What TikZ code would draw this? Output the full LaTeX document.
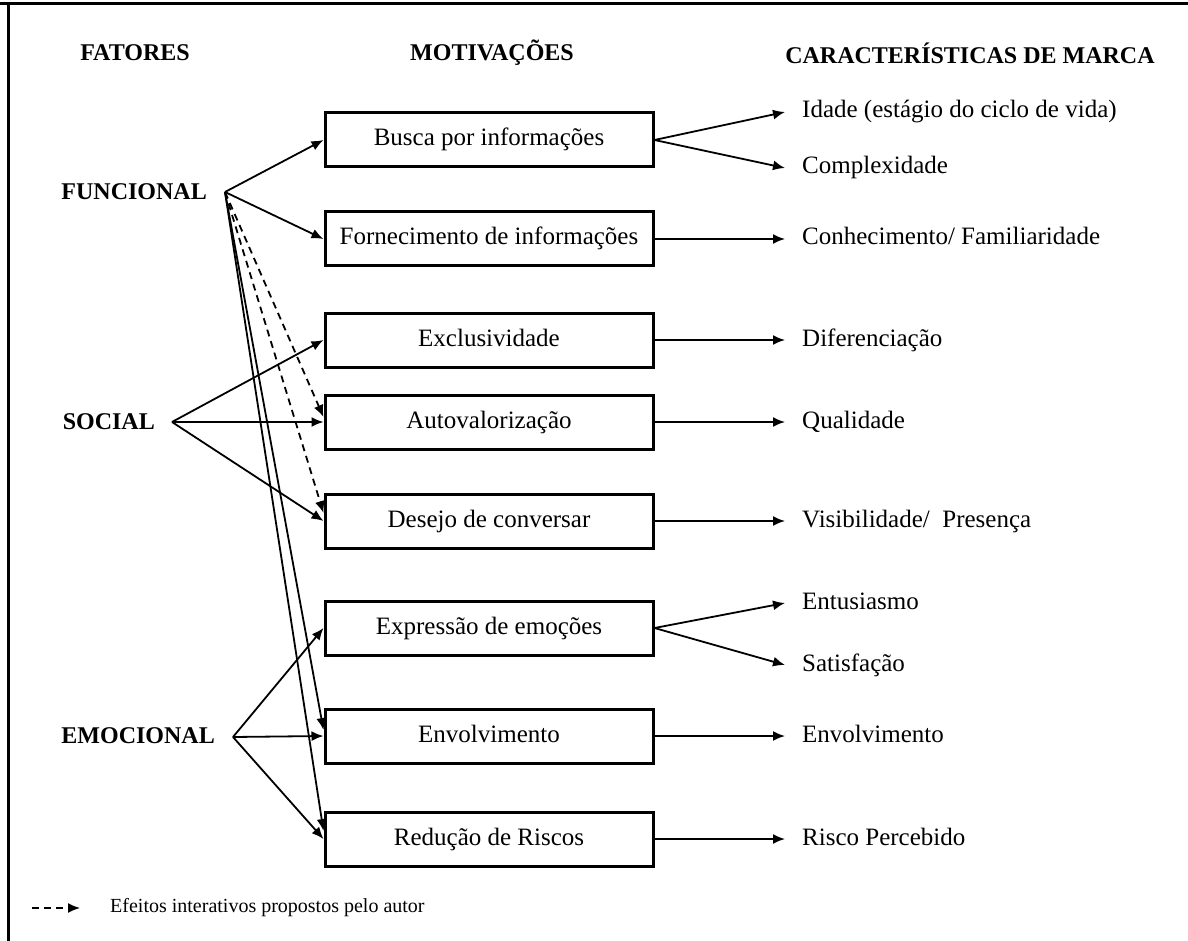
\documentclass[tikz,border=0pt]{standalone}
\usepackage{fontspec}
\setmainfont{Liberation Serif}
\usetikzlibrary{arrows.meta}
\begin{document}
\begin{tikzpicture}[x=1pt,y=-1pt,
  txt/.style={font=\fontsize{25}{30}\selectfont,text height=17pt,text depth=5pt},
  mbox/.style={txt,draw,line width=3pt,minimum width=328pt,minimum height=54pt,inner sep=0pt},
  lbl/.style={txt,anchor=west,inner sep=0pt},
  hdr/.style={inner sep=0pt,font=\fontsize{24}{28}\selectfont\bfseries},
  fac/.style={anchor=east,inner sep=0pt,font=\fontsize{24}{28}\selectfont\bfseries},
  arr/.style={line width=1.8pt,-{Latex[length=12pt,width=10pt]}},
  darr/.style={arr,dash pattern=on 7pt off 5pt}]
\useasboundingbox (0,0) rectangle (1188,941);
\draw[line width=3pt] (0,4) -- (1188,4);
\draw[line width=3pt] (8,4) -- (8,941);

% headers
\node[hdr] (hfat) at (135,53) {FATORES};
\node[hdr] (hmot) at (492,53) {MOTIVAÇÕES};
\node[hdr] (hcar) at (970,53) {CARACTERÍSTICAS DE MARCA};

% factors
\node[fac] (fun) at (207,192) {FUNCIONAL};
\node[fac] (soc) at (155,422) {SOCIAL};
\node[fac] (emo) at (215,736) {EMOCIONAL};
\coordinate (ofun) at (225,192);
\coordinate (osoc) at (172,422);
\coordinate (oemo) at (233,737);

% motivation boxes
\node[mbox] (bus) at (489,140) {Busca por informações};
\node[mbox] (for) at (489,239) {Fornecimento de informações};
\node[mbox] (exc) at (489,340) {Exclusividade};
\node[mbox] (aut) at (489,422) {Autovalorização};
\node[mbox] (des) at (489,521) {Desejo de conversar};
\node[mbox] (exp) at (489,628) {Expressão de emoções};
\node[mbox] (env) at (489,736) {Envolvimento};
\node[mbox] (red) at (489,839) {Redução de Riscos};

% brand characteristics
\node[lbl] (c1) at (802,112) {Idade (estágio do ciclo de vida)};
\node[lbl] (c2) at (802,168) {Complexidade};
\node[lbl] (c3) at (802,239) {Conhecimento/ Familiaridade};
\node[lbl] (c4) at (802,340) {Diferenciação};
\node[lbl] (c5) at (802,422) {Qualidade};
\node[lbl] (c6) at (802,521) {Visibilidade/\ \ Presença};
\node[lbl] (c7) at (802,603) {Entusiasmo};
\node[lbl] (c8) at (802,665) {Satisfação};
\node[lbl] (c9) at (802,736) {Envolvimento};
\node[lbl] (c10) at (802,839) {Risco Percebido};

% functional
\draw[arr] (ofun) -- (bus.west);
\draw[arr] (ofun) -- (for.west);
\draw[darr] (ofun) -- ([yshift=5pt]aut.west);
\draw[darr] (ofun) -- ([yshift=8pt]des.west);
\draw[arr] (ofun) -- ([yshift=6pt]env.west);
\draw[arr] (ofun) -- ([yshift=8pt]red.west);

% social
\draw[arr] (osoc) -- (exc.west);
\draw[arr] (osoc) -- (aut.west);
\draw[arr] (osoc) -- (des.west);

% emotional
\draw[arr] (oemo) -- (exp.west);
\draw[arr] (oemo) -- (env.west);
\draw[arr] (oemo) -- (red.west);

% right side
\draw[arr] (bus.east) -- ([xshift=-17pt]c1.west);
\draw[arr] (bus.east) -- ([xshift=-17pt]c2.west);
\draw[arr] (for.east) -- ([xshift=-17pt]c3.west);
\draw[arr] (exc.east) -- ([xshift=-17pt]c4.west);
\draw[arr] (aut.east) -- ([xshift=-17pt]c5.west);
\draw[arr] (des.east) -- ([xshift=-17pt]c6.west);
\draw[arr] (exp.east) -- ([xshift=-17pt]c7.west);
\draw[arr] (exp.east) -- ([xshift=-17pt]c8.west);
\draw[arr] (env.east) -- ([xshift=-17pt]c9.west);
\draw[arr] (red.east) -- ([xshift=-17pt]c10.west);

% legend
\coordinate (lg1) at (32,908);
\coordinate (lg2) at (80,908);
\draw[darr,line width=1.5pt] (lg1) -- (lg2);
\node[anchor=west,inner sep=0pt,font=\fontsize{20}{24}\selectfont] (lgt) at (110,908) {Efeitos interativos propostos pelo autor};
\end{tikzpicture}
\end{document}
